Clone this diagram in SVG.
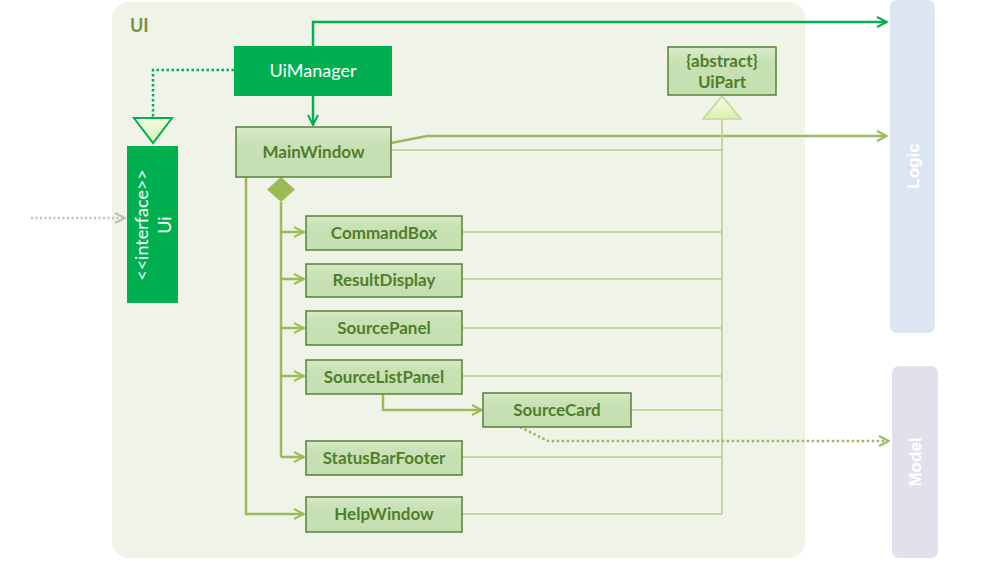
<svg xmlns="http://www.w3.org/2000/svg" width="1000" height="563" viewBox="0 0 1000 563">
<defs>
<linearGradient id="ng" x1="0" y1="0" x2="0" y2="1">
<stop offset="0" stop-color="#d9ebc9"/>
<stop offset="0.3" stop-color="#c8e1b5"/>
<stop offset="1" stop-color="#c4dfb0"/>
</linearGradient>
<linearGradient id="tg" x1="0" y1="0" x2="0" y2="1">
<stop offset="0" stop-color="#f4fce6"/>
<stop offset="1" stop-color="#d8f0b0"/>
</linearGradient>
<marker id="aG" viewBox="0 0 12 12" refX="11" refY="6" markerWidth="12" markerHeight="12" markerUnits="userSpaceOnUse" orient="auto">
<path d="M1,1 L11,6 L1,11" fill="none" stroke="#00b050" stroke-width="2"/>
</marker>
<marker id="aL" viewBox="0 0 12 12" refX="11" refY="6" markerWidth="12" markerHeight="12" markerUnits="userSpaceOnUse" orient="auto">
<path d="M1,1 L11,6 L1,11" fill="none" stroke="#9bbb59" stroke-width="2"/>
</marker>
<marker id="aS" viewBox="0 0 12 12" refX="11" refY="6" markerWidth="12" markerHeight="12" markerUnits="userSpaceOnUse" orient="auto">
<path d="M1,1 L11,6 L1,11" fill="none" stroke="#bfbfbf" stroke-width="2"/>
</marker>
</defs>
<style>
.node{fill:url(#ng);stroke:#548235;stroke-width:1.5}
.nt{font-family:Lato,"Liberation Sans",sans-serif;font-size:17px;font-weight:bold;fill:#507e2a;text-anchor:middle}
.wt{font-family:Lato,"Liberation Sans",sans-serif;font-size:18px;fill:#ffffff;text-anchor:middle}
.c{fill:none;stroke:#9bbb59;stroke-width:2.5}
.th{fill:none;stroke:#b5cf86;stroke-width:1.5}
.g{fill:none;stroke:#00b050;stroke-width:2.5}
.pt{font-family:"Liberation Sans",sans-serif;font-size:17px;font-weight:bold;fill:#ffffff;text-anchor:middle}
</style>
<rect width="1000" height="563" fill="#ffffff"/>
<g id="UI-package">
<rect x="112" y="2" width="693" height="556" rx="16" fill="#f0f4e8"/>
<text x="130" y="32" font-family="Lato,'Liberation Sans',sans-serif" font-size="18" font-weight="bold" fill="#77933c">UI</text>
</g>
<g id="Logic">
<rect x="890" y="0" width="45" height="333" rx="7" fill="#dce6f2"/>
<text class="pt" transform="translate(919,166) rotate(-90)">Logic</text>
</g>
<g id="Model">
<rect x="892" y="366" width="46" height="192" rx="7" fill="#e4dfec"/>
<text class="pt" transform="translate(921,462) rotate(-90)">Model</text>
</g>
<g id="connectors">
<line x1="31" y1="218" x2="125" y2="218" stroke="#bfbfbf" stroke-width="2.5" stroke-dasharray="2,2.5" marker-end="url(#aS)"/>
<polyline class="g" points="313,46 313,22 887,22" marker-end="url(#aG)"/>
<line class="g" x1="313" y1="96" x2="313" y2="125" marker-end="url(#aG)"/>
<polyline class="g" points="234,70 153,70 153,118" stroke-dasharray="2.5,2.5"/>
<polygon points="134,118 172,118 153,143" fill="url(#tg)" stroke="#00b050" stroke-width="2"/>
<polyline class="c" points="391,143 427,136 887,136" marker-end="url(#aL)"/>
<line class="th" x1="391" y1="150" x2="722" y2="150"/>
<line class="th" x1="462" y1="232" x2="722" y2="232"/>
<line class="th" x1="462" y1="279" x2="722" y2="279"/>
<line class="th" x1="462" y1="328" x2="722" y2="328"/>
<line class="th" x1="462" y1="376" x2="722" y2="376"/>
<line class="th" x1="631" y1="410" x2="722" y2="410"/>
<line class="th" x1="462" y1="457" x2="722" y2="457"/>
<line class="th" x1="462" y1="514" x2="722" y2="514"/>
<line class="th" x1="722" y1="119" x2="722" y2="514" stroke="#a9c66e"/>
<polygon points="722,96 703,119 741,119" fill="url(#tg)" stroke="#c3d69b" stroke-width="1.5"/>
<polygon points="281,177 295,189.5 281,202 267,189.5" fill="#9bbb59"/>
<line class="c" x1="281" y1="202" x2="281" y2="457"/>
<line class="c" x1="281" y1="232" x2="304" y2="232" marker-end="url(#aL)"/>
<line class="c" x1="281" y1="279" x2="304" y2="279" marker-end="url(#aL)"/>
<line class="c" x1="281" y1="328" x2="304" y2="328" marker-end="url(#aL)"/>
<line class="c" x1="281" y1="376" x2="304" y2="376" marker-end="url(#aL)"/>
<line class="c" x1="281" y1="457" x2="304" y2="457" marker-end="url(#aL)"/>
<polyline class="c" points="246,177 246,514 304,514" marker-end="url(#aL)"/>
<polyline class="c" points="383,394 383,410 482,410" marker-end="url(#aL)"/>
<polyline class="c" points="520,427 548,441 889,441" stroke-dasharray="2.5,2.5" marker-end="url(#aL)"/>
</g>
<g id="UiManager">
<rect x="234" y="46" width="158" height="50" fill="#00b050"/>
<text class="wt" x="313" y="77">UiManager</text>
</g>
<g id="Ui">
<rect x="127" y="146" width="51" height="157" fill="#00b050"/>
<text class="wt" transform="translate(148,225) rotate(-90)">&lt;&lt;interface&gt;&gt;</text>
<text class="wt" transform="translate(171,225) rotate(-90)">Ui</text>
</g>
<g id="MainWindow">
<rect class="node" x="236" y="127" width="155" height="50"/>
<text class="nt" x="313.5" y="158">MainWindow</text>
</g>
<g id="UiPart">
<rect class="node" x="668" y="47" width="108" height="48"/>
<text class="nt" x="722" y="67">{abstract}</text>
<text class="nt" x="722" y="88">UiPart</text>
</g>
<g id="CommandBox">
<rect class="node" x="306" y="216" width="156" height="34"/>
<text class="nt" x="384" y="239">CommandBox</text>
</g>
<g id="ResultDisplay">
<rect class="node" x="306" y="264" width="156" height="33"/>
<text class="nt" x="384" y="286">ResultDisplay</text>
</g>
<g id="SourcePanel">
<rect class="node" x="306" y="311" width="156" height="34"/>
<text class="nt" x="384" y="334">SourcePanel</text>
</g>
<g id="SourceListPanel">
<rect class="node" x="306" y="360" width="156" height="34"/>
<text class="nt" x="384" y="383">SourceListPanel</text>
</g>
<g id="SourceCard">
<rect class="node" x="483" y="393" width="148" height="34"/>
<text class="nt" x="557" y="416">SourceCard</text>
</g>
<g id="StatusBarFooter">
<rect class="node" x="306" y="441" width="156" height="34"/>
<text class="nt" x="384" y="464">StatusBarFooter</text>
</g>
<g id="HelpWindow">
<rect class="node" x="306" y="497" width="156" height="35"/>
<text class="nt" x="384" y="520">HelpWindow</text>
</g>
</svg>
